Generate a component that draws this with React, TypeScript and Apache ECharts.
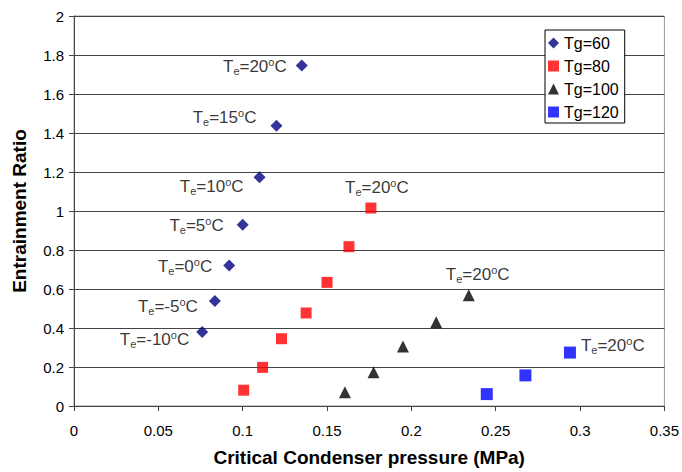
import React, { useEffect, useRef } from 'react';
import * as echarts from 'echarts';

const seriesNames = ['Tg=60', 'Tg=80', 'Tg=100', 'Tg=120'];

const te60 = [-10, -5, 0, 5, 10, 15, 20];
const p60 = [0.076, 0.0835, 0.092, 0.1, 0.11, 0.12, 0.135];
const er60 = [0.38, 0.538, 0.72, 0.93, 1.173, 1.437, 1.746];

const te80 = [-10, -5, 0, 5, 10, 15, 20];
const p80 = [0.1006, 0.1118, 0.123, 0.1376, 0.15, 0.163, 0.176];
const er80 = [0.081, 0.198, 0.345, 0.477, 0.634, 0.817, 1.015];

const te100 = [0, 5, 10, 15, 20];
const p100 = [0.1606, 0.1776, 0.195, 0.2147, 0.234];
const er100 = [0.07, 0.173, 0.305, 0.43, 0.568];

const te120 = [10, 15, 20];
const p120 = [0.2447, 0.2676, 0.294];
const er120 = [0.061, 0.157, 0.274];

// label placement (layout only)
const offsets60: number[][] = [[-2, 8], [-6, 5], [-6, 1], [-8, 1], [-5, 9], [-9, -8], [-4, 1]];
const lastLabel80 = { position: 'top', offset: [6, 0] };
const lastLabel100 = { position: 'top', offset: [9, 0] };
const lastLabel120 = { position: 'right', offset: [0, -7] };

const FONT = '"Liberation Sans", Arial, sans-serif';

const teText = (t: number) => `T{sub|e}=${t}{sup|o}C`;

const richStyle = {
  sub: { fontSize: 11, lineHeight: 11, verticalAlign: 'bottom', fontFamily: FONT, color: '#000' },
  sup: { fontSize: 11, lineHeight: 11, verticalAlign: 'top', fontFamily: FONT, color: '#000' },
};

const baseLabel = {
  show: true,
  fontSize: 17,
  lineHeight: 20,
  fontFamily: FONT,
  color: '#000',
  rich: richStyle,
};

function buildData(ps: number[], ers: number[], tes: number[], labelFor: (i: number) => any) {
  return ps.map((p, i) => {
    const lab = labelFor(i);
    return {
      value: [p, ers[i]],
      label: lab
        ? { ...baseLabel, ...lab, formatter: teText(tes[i]) }
        : { show: false },
    };
  });
}

export default function App() {
  const ref = useRef<HTMLDivElement>(null);
  useEffect(() => {
    if (!ref.current) return;
    const chart = echarts.init(ref.current, null, { renderer: 'svg' });
    const option: any = {
      animation: false,
      backgroundColor: '#fff',
      textStyle: { fontFamily: FONT },
      grid: {
        left: 74,
        right: 13,
        top: 16,
        bottom: 60,
        show: true,
        borderColor: '#999',
        borderWidth: 1,
        backgroundColor: 'transparent',
      },
      legend: {
        orient: 'vertical',
        left: 545,
        top: 30,
        padding: [5, 6, 3, 3],
        itemWidth: 11,
        itemHeight: 11,
        itemGap: 7,
        borderColor: '#000',
        borderWidth: 1,
        backgroundColor: '#fff',
        textStyle: { fontSize: 16, fontFamily: FONT, color: '#000', lineHeight: 16 },
        data: seriesNames,
      },
      xAxis: {
        type: 'value',
        min: 0,
        max: 0.35,
        interval: 0.05,
        name: 'Critical Condenser pressure (MPa)',
        nameLocation: 'middle',
        nameGap: 42,
        nameTextStyle: { fontSize: 19, fontWeight: 'bold', color: '#000', fontFamily: FONT },
        axisLine: { show: true, lineStyle: { color: '#444', width: 1 } },
        axisTick: { show: true, length: 5, lineStyle: { color: '#444' } },
        axisLabel: {
          fontSize: 15,
          color: '#000',
          margin: 17,
          fontFamily: FONT,
          formatter: (v: number) => String(+v.toFixed(2)),
        },
        splitLine: { show: false },
      },
      yAxis: {
        type: 'value',
        min: 0,
        max: 2,
        interval: 0.2,
        name: 'Entrainment Ratio',
        nameLocation: 'middle',
        nameGap: 45,
        nameTextStyle: { fontSize: 19, fontWeight: 'bold', color: '#000', fontFamily: FONT },
        axisLine: { show: true, lineStyle: { color: '#444', width: 1 } },
        axisTick: { show: true, length: 5, lineStyle: { color: '#444' } },
        axisLabel: {
          fontSize: 15,
          color: '#000',
          margin: 10,
          fontFamily: FONT,
          formatter: (v: number) => String(+v.toFixed(1)),
        },
        splitLine: { show: true, lineStyle: { color: '#444', width: 1 } },
      },
      series: [
        {
          name: seriesNames[0],
          type: 'scatter',
          symbol: 'diamond',
          symbolSize: 12,
          itemStyle: { color: '#000080' },
          data: buildData(p60, er60, te60, (i) => ({ position: 'left', offset: offsets60[i] })),
        },
        {
          name: seriesNames[1],
          type: 'scatter',
          symbol: 'rect',
          symbolSize: 11,
          itemStyle: { color: '#FF0000' },
          data: buildData(p80, er80, te80, (i) => (i === p80.length - 1 ? lastLabel80 : null)),
        },
        {
          name: seriesNames[2],
          type: 'scatter',
          symbol: 'triangle',
          symbolSize: 12,
          itemStyle: { color: '#000000' },
          data: buildData(p100, er100, te100, (i) => (i === p100.length - 1 ? lastLabel100 : null)),
        },
        {
          name: seriesNames[3],
          type: 'scatter',
          symbol: 'rect',
          symbolSize: 12,
          itemStyle: { color: '#0000FF' },
          data: buildData(p120, er120, te120, (i) => (i === p120.length - 1 ? lastLabel120 : null)),
        },
      ],
    };
    chart.setOption(option);
    return () => chart.dispose();
  }, []);
  return <div ref={ref} style={{ width: 682, height: 472, position: 'absolute', left: 0, top: 0 }} />;
}
